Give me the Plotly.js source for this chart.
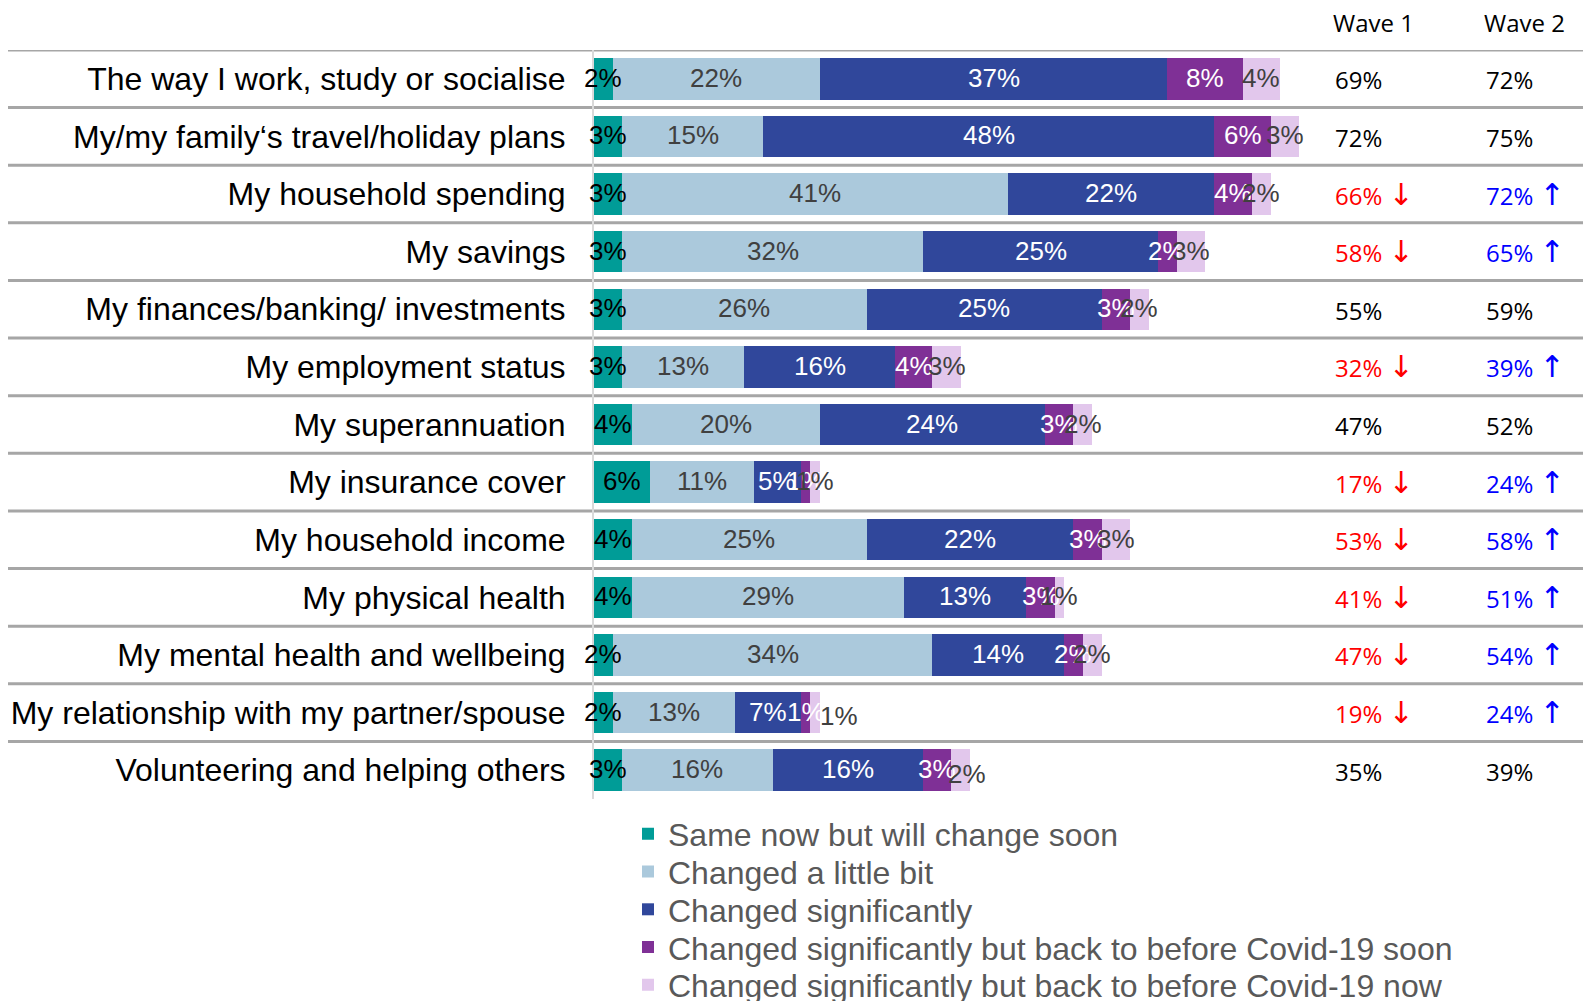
<!DOCTYPE html>
<html>
<head>
<meta charset="utf-8">
<script src="https://cdn.plot.ly/plotly-3.0.1.min.js"></script>
<style>
  html, body { margin: 0; padding: 0; background: #fff; }
  #chart { width: 1583px; height: 1001px; }
</style>
</head>
<body>
<div id="chart"></div>
<script>
// Stacked bars: how each life area has changed, with wave 1 / wave 2 totals on the right

var categories = [
    'The way I work, study or socialise',
    'My/my family\u2018s travel/holiday plans',
    'My household spending',
    'My savings',
    'My finances/banking/ investments',
    'My employment status',
    'My superannuation',
    'My insurance cover',
    'My household income',
    'My physical health',
    'My mental health and wellbeing',
    'My relationship with my partner/spouse',
    'Volunteering and helping others'
];

var seriesNames = [
    'Same now but will change soon',
    'Changed a little bit',
    'Changed significantly',
    'Changed significantly but back to before Covid-19 soon',
    'Changed significantly but back to before Covid-19 now'
];

var sameSoon      = [2, 3, 3, 3, 3, 3, 4, 6, 4, 4, 2, 2, 3];
var littleBit     = [22, 15, 41, 32, 26, 13, 20, 11, 25, 29, 34, 13, 16];
var significantly = [37, 48, 22, 25, 25, 16, 24, 5, 22, 13, 14, 7, 16];
var backSoon      = [8, 6, 4, 2, 3, 4, 3, 1, 3, 3, 2, 1, 3];
var backNow       = [4, 3, 2, 3, 2, 3, 2, 1, 3, 1, 2, 1, 2];

var wave1 = [69, 72, 66, 58, 55, 32, 47, 17, 53, 41, 47, 19, 35];
var wave2 = [72, 75, 72, 65, 59, 39, 52, 24, 58, 51, 54, 24, 39];
// 1 = significant change between waves (wave 1 lower, wave 2 higher)
var sigChange = [0, 0, 1, 1, 0, 1, 0, 1, 1, 1, 1, 1, 0];

var colors = ['#009C97', '#ABC9DC', '#30479B', '#7F3096', '#E2C7EC'];
var labelColors = ['#000000', '#404040', '#ffffff', '#ffffff', '#404040'];

var allSeries = [sameSoon, littleBit, significantly, backSoon, backNow];

var W = 1583, H = 1001;
function px(x) { return x / W; }
function py(y) { return 1 - y / H; }

var legendIds = ['legend', 'legend2', 'legend3', 'legend4', 'legend5'];

var data = allSeries.map(function (vals, i) {
    return {
        type: 'bar',
        orientation: 'h',
        y: categories,
        x: vals,
        name: seriesNames[i],
        legend: legendIds[i],
        marker: { color: colors[i] },
        textposition: 'none',
        hoverinfo: 'skip'
    };
});

// value labels centred on each segment (a couple nudged like the original)
var nudge = { '11-4': [24, -4], '12-4': [6, -5] };
var annotations = [];
categories.forEach(function (cat, r) {
    var start = 0;
    allSeries.forEach(function (vals, i) {
        var v = vals[r];
        var n = nudge[r + '-' + i] || [0, 0];
        annotations.push({
            x: start + v / 2, y: cat, xref: 'x', yref: 'y',
            xshift: n[0], yshift: n[1] + 1,
            text: v + '%', showarrow: false,
            font: { family: 'Liberation Sans, Arial, sans-serif', size: 26, color: labelColors[i] }
        });
        start += v;
    });
});

// wave columns
var waveFont = 'Open Sans, Noto Sans, DejaVu Sans, sans-serif';
var arrowStyle = 'font-size:30px;font-family:Noto Sans, DejaVu Sans, sans-serif';
annotations.push({
    x: px(1331), y: py(22), xref: 'paper', yref: 'paper', xanchor: 'left', yanchor: 'middle',
    text: 'Wave 1', showarrow: false, font: { family: waveFont, size: 24, color: '#000' }
});
annotations.push({
    x: px(1482), y: py(22), xref: 'paper', yref: 'paper', xanchor: 'left', yanchor: 'middle',
    text: 'Wave 2', showarrow: false, font: { family: waveFont, size: 24, color: '#000' }
});
categories.forEach(function (cat, r) {
    var sig = sigChange[r] === 1;
    var shift = sig ? 1 : -1;
    annotations.push({
        x: px(1333), y: cat, xref: 'paper', yref: 'y', xanchor: 'left', yshift: shift,
        text: wave1[r] + '%' + (sig ? ' <span style="' + arrowStyle + '">\u2193</span>' : ''),
        showarrow: false,
        font: { family: waveFont, size: 24, color: sig ? '#FF0000' : '#000' }
    });
    annotations.push({
        x: px(1484), y: cat, xref: 'paper', yref: 'y', xanchor: 'left', yshift: shift,
        text: wave2[r] + '%' + (sig ? ' <span style="' + arrowStyle + '">\u2191</span>' : ''),
        showarrow: false,
        font: { family: waveFont, size: 24, color: sig ? '#0000FF' : '#000' }
    });
});

// row separators
var shapes = [];
for (var i = 0; i < categories.length; i++) {
    shapes.push({
        type: 'line', xref: 'paper', yref: 'y',
        x0: px(8), x1: 1, y0: i - 0.5, y1: i - 0.5,
        line: { color: '#A6A6A6', width: 3 },
        layer: 'below'
    });
}

var layout = {
    width: W,
    height: H,
    margin: { l: 0, r: 0, t: 0, b: 0, autoexpand: false },
    paper_bgcolor: '#fff',
    plot_bgcolor: 'rgba(0,0,0,0)',
    barmode: 'stack',
    bargap: 0.28,
    showlegend: true,
    xaxis: {
        domain: [px(594), px(1346)],
        range: [0, 80],
        visible: false,
        fixedrange: true
    },
    yaxis: {
        domain: [py(799), py(50)],
        range: [categories.length - 0.5, -0.5],
        type: 'category',
        showgrid: false,
        zeroline: false,
        showline: true,
        linecolor: '#D9D9D9',
        linewidth: 2,
        ticks: '',
        ticklabelstandoff: 20,
        tickfont: { family: 'Liberation Sans, Arial, sans-serif', size: 32, color: '#000' },
        fixedrange: true
    },
    annotations: annotations,
    shapes: shapes
};

// one small legend per series so the rows sit as tightly as the original
legendIds.forEach(function (id, i) {
    layout[id] = {
        orientation: 'v',
        x: px(628), y: py(834 + 37.75 * i), xanchor: 'left', yanchor: 'middle',
        bgcolor: 'rgba(0,0,0,0)',
        font: { family: 'Liberation Sans, Arial, sans-serif', size: 32, color: '#595959' }
    };
});

Plotly.newPlot('chart', data, layout, { displayModeBar: false, staticPlot: true });
</script>
</body>
</html>
